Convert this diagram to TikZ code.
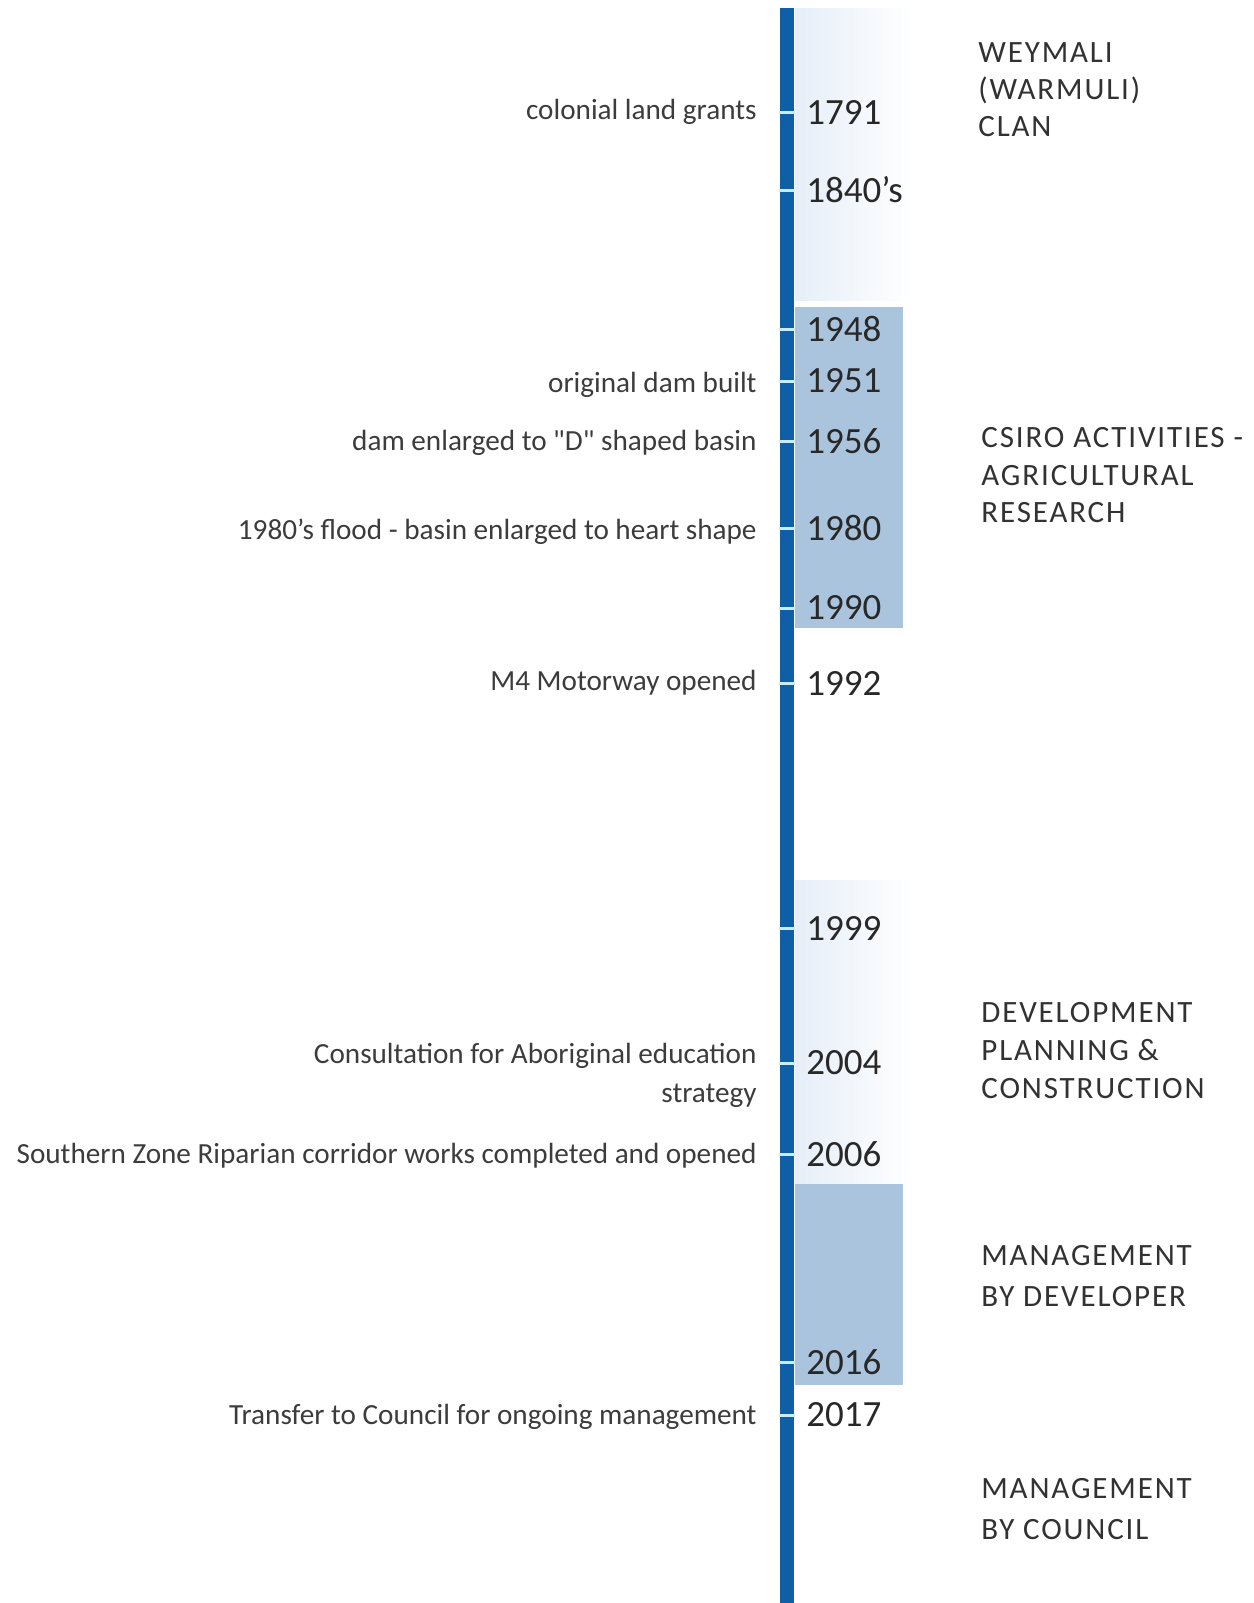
\documentclass[tikz,border=0pt]{standalone}
\usepackage{fontspec}
\setmainfont{Carlito}[Ligatures=TeXOff]
\newfontfamily\capsfont[LetterSpace=6]{Carlito}
\definecolor{lineblue}{RGB}{14,95,166}
\definecolor{tickcyan}{RGB}{200,236,250}
\definecolor{bandblue}{RGB}{170,196,222}
\definecolor{palefill}{RGB}{230,238,248}
\definecolor{yeartext}{RGB}{40,40,40}
\definecolor{eventtext}{RGB}{60,60,60}
\definecolor{phasetext}{RGB}{50,50,50}
\begin{document}
\begin{tikzpicture}[x=0.5pt,y=-0.5pt,
  year/.style={anchor=west, inner sep=0pt, font=\fontsize{18.5}{22}\selectfont, text=yeartext},
  event/.style={anchor=base east, inner sep=0pt, font=\fontsize{14.6}{18}\selectfont, text=eventtext},
  phase/.style={anchor=base west, inner sep=0pt, font=\capsfont\fontsize{15.5}{19}\selectfont, text=phasetext},
  tickmark/.style={draw=tickcyan, line width=1.5pt},
  band/.style={fill=bandblue},
  paleband/.style={left color=palefill, right color=white},
  axis/.style={draw=lineblue, line width=7pt}
]
\useasboundingbox (0,0) rectangle (1254,1603);
\fill[white] (0,0) rectangle (1254,1603);

% pale and shaded bands
\fill[paleband] (795,8) rectangle (912,300);
\fill[paleband] (795,880) rectangle (912,1184);
\fill[band] (795,307) rectangle (903,628);
\fill[band] (795,1184) rectangle (903,1385);

% timeline axis
\coordinate (top) at (787,8);
\coordinate (bottom) at (787,1603);
\draw[axis] (top) -- (bottom);

% ticks
\foreach \ty in {112,190,329,381,441,528,608,683,928,1063,1154,1362,1415}
  \draw[tickmark] (779,\ty) -- (795,\ty);

% years
\node[year] (y1791) at (806,112) {1791};
\node[year] (y1840) at (806,190) {1840’s};
\node[year] (y1948) at (806,329) {1948};
\node[year] (y1951) at (806,381) {1951};
\node[year] (y1956) at (806,441) {1956};
\node[year] (y1980) at (806,528) {1980};
\node[year] (y1990) at (806,608) {1990};
\node[year] (y1992) at (806,683) {1992};
\node[year] (y1999) at (806,928) {1999};
\node[year] (y2004) at (806,1063) {2004};
\node[year] (y2006) at (806,1154) {2006};
\node[year] (y2016) at (806,1362) {2016};
\node[year] (y2017) at (806,1415) {2017};

% events
\node[event] (e1791) at (757,119) {colonial land grants};
\node[event] (e1951) at (757,392) {original dam built};
\node[event] (e1956) at (757,450) {dam enlarged to "D" shaped basin};
\node[event] (e1980) at (757,539) {1980’s flood - basin enlarged to heart shape};
\node[event] (e1992) at (757,690) {M4 Motorway opened};
\node[event] (e2004a) at (757,1063) {Consultation for Aboriginal education};
\node[event] (e2004b) at (757,1102) {strategy};
\node[event] (e2006) at (757,1163) {Southern Zone Riparian corridor works completed and opened};
\node[event] (e2017) at (757,1424) {Transfer to Council for ongoing management};

% phases
\node[phase] (p1a) at (978,62) {WEYMALI};
\node[phase] (p1b) at (978,99) {(WARMULI)};
\node[phase] (p1c) at (978,136) {CLAN};
\node[phase] (p2a) at (981,447) {CSIRO ACTIVITIES -};
\node[phase] (p2b) at (981,485) {AGRICULTURAL};
\node[phase] (p2c) at (981,522) {RESEARCH};
\node[phase] (p3a) at (981,1022) {DEVELOPMENT};
\node[phase] (p3b) at (981,1060) {PLANNING \&};
\node[phase] (p3c) at (981,1098) {CONSTRUCTION};
\node[phase] (p4a) at (981,1265) {MANAGEMENT};
\node[phase] (p4b) at (981,1306) {BY DEVELOPER};
\node[phase] (p5a) at (981,1498) {MANAGEMENT};
\node[phase] (p5b) at (981,1539) {BY COUNCIL};
\end{tikzpicture}
\end{document}
